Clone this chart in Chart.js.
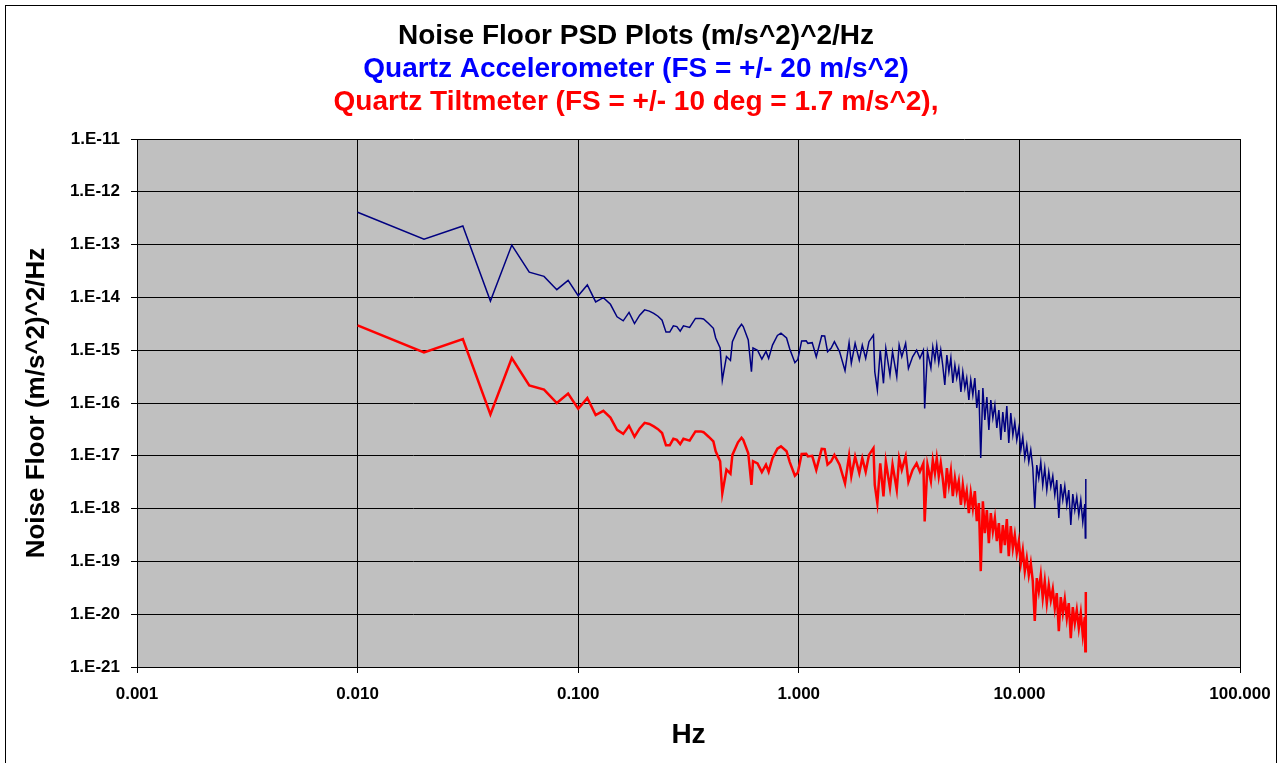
<!DOCTYPE html>
<html>
<head>
<meta charset="utf-8">
<script src="https://cdn.jsdelivr.net/npm/chart.js@4.4.1/dist/chart.umd.min.js"></script>
<style>
  html, body { margin: 0; padding: 0; background: #fff; }
  #psd { display: block; }
</style>
</head>
<body>
<canvas id="psd" width="1282" height="763"></canvas>
<script>
// frequences (Hz)
const freqs = [
  0.01, 0.02, 0.03, 0.04, 0.05, 0.06, 0.07, 0.08, 0.09, 0.10,
  0.11, 0.12, 0.13, 0.14, 0.15, 0.16, 0.17, 0.18, 0.19, 0.20, 0.21, 0.22, 0.23, 0.24, 0.25, 0.26, 0.27, 0.28, 0.29, 0.30,
  0.32, 0.34, 0.36, 0.37, 0.39, 0.41, 0.42, 0.44, 0.45, 0.47, 0.49, 0.50, 0.53, 0.55, 0.56, 0.59, 0.61, 0.62, 0.65, 0.68, 0.71, 0.73, 0.76, 0.80, 0.83, 0.88, 0.91, 0.96, 0.99,
  1.03, 1.08, 1.10, 1.15, 1.20, 1.27, 1.31, 1.35, 1.40, 1.45, 1.53, 1.62, 1.69, 1.73, 1.80, 1.88, 1.94, 2.01, 2.08, 2.18, 2.21, 2.27, 2.34, 2.42, 2.48, 2.59, 2.66, 2.78, 2.85, 2.93,
  3.05, 3.14, 3.28, 3.42, 3.54, 3.67, 3.72, 3.83,
  3.97, 4.05, 4.14, 4.22, 4.31, 4.40, 4.49, 4.59, 4.69, 4.79,
  4.89, 4.99, 5.10, 5.20, 5.31, 5.43, 5.54, 5.66, 5.77, 5.90,
  6.02, 6.15, 6.28, 6.41, 6.55, 6.68, 6.83, 6.97, 7.12, 7.27,
  7.42, 7.58, 7.74, 7.90, 8.07, 8.24, 8.41, 8.59, 8.77, 8.95,
  9.14, 9.34, 9.53, 9.73, 9.94, 10.15, 10.36, 10.58, 10.80, 11.03,
  11.26, 11.50, 11.74, 11.99, 12.24, 12.50, 12.76, 13.03, 13.31, 13.59,
  13.88, 14.17, 14.47, 14.77, 15.09, 15.40, 15.73, 16.06, 16.40, 16.74,
  17.10, 17.46, 17.83, 18.20, 18.59, 18.98, 19.38, 19.79, 19.9, 20.0
];

// Quartz Accelerometer (m/s^2)^2/Hz
const accelPsd = [
  4.1e-13, 1.26e-13, 2.25e-13, 8.5e-15, 9.8e-14, 3.0e-14, 2.5e-14, 1.4e-14, 2.1e-14, 1.08e-14,
  1.72e-14, 8.2e-15, 9.9e-15, 7.4e-15, 4.3e-15, 3.6e-15, 5.2e-15, 3.2e-15, 4.6e-15, 5.8e-15, 5.5e-15, 5.0e-15, 4.4e-15, 3.7e-15, 2.2e-15, 2.2e-15, 2.9e-15, 2.8e-15, 2.3e-15, 2.9e-15,
  2.7e-15, 4.0e-15, 4.0e-15, 3.9e-15, 3.2e-15, 2.6e-15, 1.7e-15, 1.1e-15, 2.7e-16, 7.6e-16, 6.4e-16, 1.45e-15, 2.5e-15, 3.1e-15, 2.8e-15, 1.56e-15, 3.9e-16, 1.1e-15, 1.0e-15, 6.8e-16, 9.5e-16, 7.0e-16, 1.25e-15, 1.9e-15, 2.1e-15, 1.7e-15, 1.05e-15, 5.8e-16, 6.7e-16,
  1.5e-15, 1.51e-15, 1.35e-15, 1.39e-15, 7.5e-16, 1.88e-15, 1.86e-15, 9.4e-16, 1.09e-15, 1.45e-15, 9.4e-16, 4.1e-16, 1.39e-15, 5.65e-16, 1.35e-15, 6.5e-16, 1.25e-15, 7.0e-16, 1.45e-15, 1.94e-15, 3.9e-16, 1.76e-16, 1.0e-15, 2.36e-16, 1.09e-15, 3.4e-16, 9.4e-16, 3.15e-16, 1.25e-15, 7.5e-16,
  1.35e-15, 4.5e-16, 7.5e-16, 1.0e-15, 7.0e-16, 1.0e-15, 7.9e-17, 9.4e-16,
  4.60e-16, 1.15e-15, 6.52e-16, 1.25e-15, 5.72e-16, 1.01e-15, 5.24e-16, 2.19e-16, 8.11e-16, 3.87e-16,
  7.12e-16, 2.39e-16, 5.24e-16, 2.97e-16, 4.60e-16, 1.62e-16, 3.87e-16, 1.92e-16, 2.97e-16, 1.14e-16,
  2.73e-16, 1.42e-16, 2.97e-16, 8.04e-17, 1.76e-16, 9.08e-18, 1.92e-16, 4.76e-17, 1.30e-16, 3.08e-17,
  1.14e-16, 5.20e-17, 9.17e-17, 3.36e-17, 7.37e-17, 1.99e-17, 6.75e-17, 2.82e-17, 8.77e-17, 1.75e-17,
  6.46e-17, 2.48e-17, 4.37e-17, 1.99e-17, 3.36e-17, 1.29e-17, 2.27e-17, 9.08e-18, 1.60e-17, 7.63e-18,
  1.29e-17, 5.87e-18, 1.03e-18, 6.69e-18, 3.80e-18, 7.63e-18, 2.80e-18, 5.87e-18, 2.25e-18, 4.93e-18,
  2.57e-18, 4.14e-18, 1.81e-18, 3.48e-18, 6.64e-19, 2.92e-18, 1.46e-18, 2.68e-18, 1.17e-18, 2.25e-18,
  4.89e-19, 1.89e-18, 9.41e-19, 1.66e-18, 7.56e-19, 1.46e-18, 5.57e-19, 1.22e-18, 2.77e-19, 3.64e-18
];

// Quartz Tiltmeter (m/s^2)^2/Hz
const tiltPsd = [
  2.95e-15, 9.1e-16, 1.62e-15, 6.1e-17, 7.1e-16, 2.16e-16, 1.8e-16, 1.0e-16, 1.51e-16, 7.8e-17,
  1.24e-16, 5.9e-17, 7.1e-17, 5.3e-17, 3.1e-17, 2.6e-17, 3.7e-17, 2.3e-17, 3.3e-17, 4.2e-17, 4.0e-17, 3.6e-17, 3.2e-17, 2.7e-17, 1.58e-17, 1.58e-17, 2.1e-17, 2.0e-17, 1.66e-17, 2.1e-17,
  1.94e-17, 2.9e-17, 2.9e-17, 2.8e-17, 2.3e-17, 1.87e-17, 1.22e-17, 7.9e-18, 1.94e-18, 5.5e-18, 4.6e-18, 1.04e-17, 1.8e-17, 2.2e-17, 2.0e-17, 1.12e-17, 2.8e-18, 7.9e-18, 7.2e-18, 4.9e-18, 6.8e-18, 5.0e-18, 9.0e-18, 1.37e-17, 1.51e-17, 1.22e-17, 7.6e-18, 4.2e-18, 4.8e-18,
  1.08e-17, 1.09e-17, 9.7e-18, 1.0e-17, 5.4e-18, 1.35e-17, 1.34e-17, 6.8e-18, 7.8e-18, 1.04e-17, 6.8e-18, 3.0e-18, 1.0e-17, 4.1e-18, 9.7e-18, 4.7e-18, 9.0e-18, 5.0e-18, 1.04e-17, 1.4e-17, 2.8e-18, 1.27e-18, 7.2e-18, 1.7e-18, 7.8e-18, 2.45e-18, 6.8e-18, 2.27e-18, 9.0e-18, 5.4e-18,
  9.7e-18, 3.2e-18, 5.4e-18, 7.2e-18, 5.0e-18, 7.2e-18, 5.7e-19, 6.8e-18,
  3.31e-18, 8.28e-18, 4.69e-18, 9.03e-18, 4.12e-18, 7.27e-18, 3.77e-18, 1.58e-18, 5.84e-18, 2.79e-18,
  5.13e-18, 1.72e-18, 3.77e-18, 2.14e-18, 3.31e-18, 1.17e-18, 2.79e-18, 1.38e-18, 2.14e-18, 8.21e-19,
  1.97e-18, 1.02e-18, 2.14e-18, 5.79e-19, 1.27e-18, 6.54e-20, 1.38e-18, 3.43e-19, 9.36e-19, 2.22e-19,
  8.21e-19, 3.74e-19, 6.60e-19, 2.42e-19, 5.31e-19, 1.43e-19, 4.86e-19, 2.03e-19, 6.31e-19, 1.26e-19,
  4.65e-19, 1.79e-19, 3.15e-19, 1.43e-19, 2.42e-19, 9.29e-20, 1.63e-19, 6.54e-20, 1.15e-19, 5.49e-20,
  9.29e-20, 4.23e-20, 7.42e-21, 4.82e-20, 2.74e-20, 5.49e-20, 2.02e-20, 4.23e-20, 1.62e-20, 3.55e-20,
  1.85e-20, 2.98e-20, 1.30e-20, 2.51e-20, 4.78e-21, 2.10e-20, 1.05e-20, 1.93e-20, 8.42e-21, 1.62e-20,
  3.52e-21, 1.36e-20, 6.78e-21, 1.20e-20, 5.44e-21, 1.05e-20, 4.01e-21, 8.78e-21, 1.99e-21, 2.62e-20
];

const xTicks = [0.001, 0.01, 0.1, 1, 10, 100];
const xTickLabels = ['0.001', '0.010', '0.100', '1.000', '10.000', '100.000'];
const yTicks = [1e-21, 1e-20, 1e-19, 1e-18, 1e-17, 1e-16, 1e-15, 1e-14, 1e-13, 1e-12, 1e-11];
const yTickLabels = ['1.E-21', '1.E-20', '1.E-19', '1.E-18', '1.E-17', '1.E-16', '1.E-15', '1.E-14', '1.E-13', '1.E-12', '1.E-11'];

const titleLines = [
  ['Noise Floor PSD Plots (m/s^2)^2/Hz', '#000000'],
  ['Quartz Accelerometer (FS = +/- 20 m/s^2)', '#0000ff'],
  ['Quartz Tiltmeter (FS = +/- 10 deg = 1.7 m/s^2),', '#ff0000']
];
const xTitle = 'Hz';
const yTitle = 'Noise Floor (m/s^2)^2/Hz';

const FONT = '"Liberation Sans", Arial, sans-serif';

// fond gris, cadre et titres
const excelFrame = {
  id: 'excelFrame',
  beforeDraw(chart) {
    const ctx = chart.ctx, a = chart.chartArea;
    ctx.save();
    ctx.fillStyle = '#ffffff';
    ctx.fillRect(0, 0, chart.width, chart.height);
    ctx.fillStyle = '#c0c0c0';
    ctx.fillRect(a.left, a.top, a.right - a.left, a.bottom - a.top);
    ctx.restore();
  },
  afterDraw(chart) {
    const ctx = chart.ctx, a = chart.chartArea;
    ctx.save();
    ctx.strokeStyle = '#000000';
    ctx.lineWidth = 1;
    ctx.strokeRect(5.5, 5.5, 1271, 760);

    ctx.textAlign = 'center';
    ctx.textBaseline = 'middle';
    ctx.font = 'bold 28px ' + FONT;
    for (let i = 0; i < titleLines.length; i++) {
      ctx.fillStyle = titleLines[i][1];
      ctx.fillText(titleLines[i][0], 636, 36 + i * 33);
    }

    ctx.fillStyle = '#000000';
    ctx.font = 'bold 28px ' + FONT;
    ctx.fillText(xTitle, (a.left + a.right) / 2, 735);

    ctx.font = 'bold 26px ' + FONT;
    ctx.translate(37, (a.top + a.bottom) / 2);
    ctx.rotate(-Math.PI / 2);
    ctx.fillText(yTitle, 0, 0);
    ctx.restore();
  }
};

const psdChart = new Chart(document.getElementById('psd'), {
  type: 'line',
  data: {
    datasets: [{
      label: 'Quartz Accelerometer',
      data: freqs.map((f, i) => ({x: f, y: accelPsd[i]})),
      borderColor: '#000080',
      borderWidth: 1.5,
      pointRadius: 0,
      tension: 0
    }, {
      label: 'Quartz Tiltmeter',
      data: freqs.map((f, i) => ({x: f, y: tiltPsd[i]})),
      borderColor: '#ff0000',
      borderWidth: 2.5,
      pointRadius: 0,
      tension: 0
    }]
  },
  options: {
    responsive: false,
    animation: false,
    devicePixelRatio: 1,
    layout: {padding: {top: 139, right: 42, left: 0, bottom: 36}},
    plugins: {
      legend: {display: false},
      title: {display: false},
      tooltip: {enabled: false}
    },
    scales: {
      x: {
        type: 'logarithmic',
        min: 0.001,
        max: 100,
        afterBuildTicks: (s) => { s.ticks = xTicks.map(v => ({value: v})); },
        afterFit: (s) => { s.height = 60; },
        ticks: {
          autoSkip: false,
          maxRotation: 0,
          padding: 11,
          color: '#000000',
          font: {family: FONT, size: 17, weight: 'bold'},
          callback: (v, i) => xTickLabels[i]
        },
        grid: {color: '#000000', lineWidth: 1, tickLength: 6},
        border: {color: '#000000', width: 1}
      },
      y: {
        type: 'logarithmic',
        min: 1e-21,
        max: 1e-11,
        afterBuildTicks: (s) => { s.ticks = yTicks.map(v => ({value: v})); },
        afterFit: (s) => { s.width = 137; },
        ticks: {
          autoSkip: false,
          padding: 11,
          color: '#000000',
          font: {family: FONT, size: 17, weight: 'bold'},
          callback: (v, i) => yTickLabels[i]
        },
        grid: {color: '#000000', lineWidth: 1, tickLength: 6},
        border: {color: '#000000', width: 1}
      }
    }
  },
  plugins: [excelFrame]
});
</script>
</body>
</html>
